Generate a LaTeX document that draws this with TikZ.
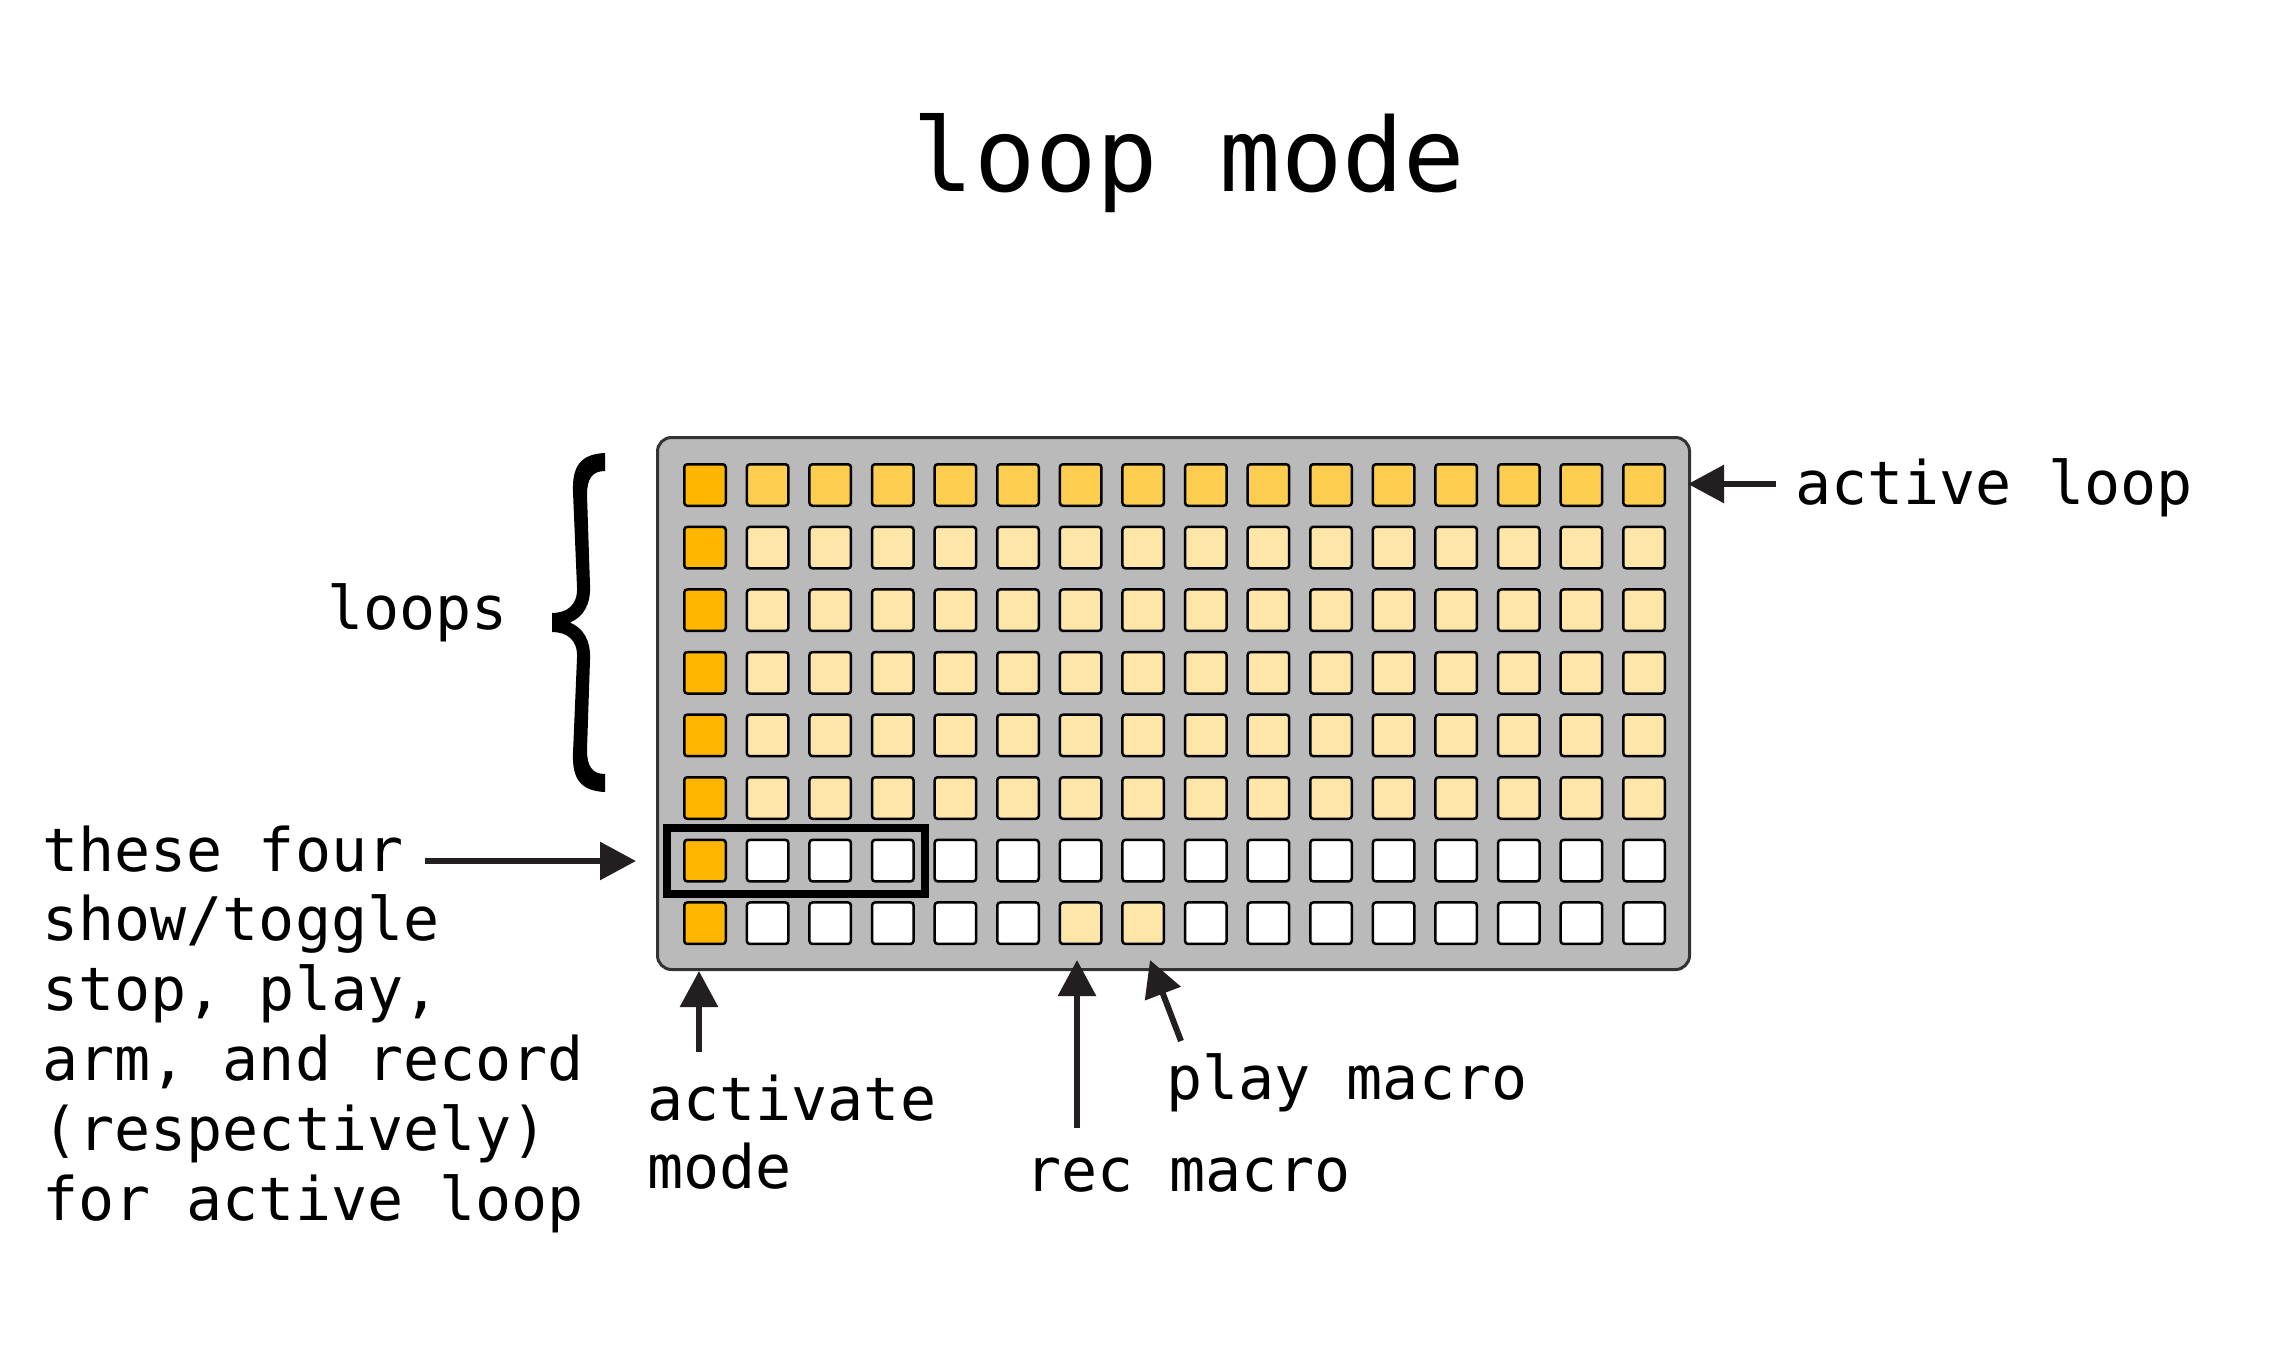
\documentclass[tikz,border=0pt]{standalone}
\usepackage{fontspec}
\newfontfamily\monof{DejaVu Sans Mono}
\usetikzlibrary{arrows.meta}
\definecolor{panelgray}{HTML}{BABABA}
\definecolor{paneledge}{HTML}{333333}
\definecolor{darkor}{HTML}{FFB600}
\definecolor{midor}{HTML}{FDCD50}
\definecolor{lightor}{HTML}{FEE6A9}
\definecolor{arrowc}{HTML}{231F20}
\begin{document}
\begin{tikzpicture}[x=1pt,y=-1pt,
  cell/.style={draw=black, line width=2.5pt, rounded corners=3pt, minimum size=41.5pt, inner sep=0pt},
  lbl/.style={anchor=base west, inner sep=0pt, font=\monof\fontsize{60}{70}\selectfont},
  arr/.style={draw=arrowc, line width=6pt, -{Triangle[length=36pt,width=37pt]}}]
\useasboundingbox (0,0) rectangle (2292,1354);
\fill[white] (0,0) rectangle (2292,1354);
% title
\node[anchor=base, inner sep=0pt, font=\monof\fontsize{102}{120}\selectfont] (title) at (1189,191) {loop mode};
% panel
\node[draw=paneledge, fill=panelgray, line width=3pt, rounded corners=14pt,
      minimum width=1032pt, minimum height=532pt, inner sep=0pt] (panel) at (1173.5,703.5) {};
% cells
\foreach \r in {0,...,7}{
  \foreach \c in {0,...,15}{
    \def\cc{white}
    \ifnum\r<6 \def\cc{lightor}\fi
    \ifnum\r=0 \def\cc{midor}\fi
    \ifnum\r=7 \ifnum\c>5 \ifnum\c<8 \def\cc{lightor}\fi\fi\fi
    \ifnum\c=0 \def\cc{darkor}\fi
    \node[cell, fill=\cc] (c-\r-\c) at ({705+62.6*\c},{485+62.6*\r}) {};
  }
}
% focus rectangle
\node[draw=black, line width=8pt, minimum width=258pt, minimum height=66pt, inner sep=0pt] (focus) at (796,861) {};
% labels
\node[lbl] (active) at (1795,504) {active loop};
\node[lbl] (loops) at (327,629) {loops};
\node[lbl] (t1) at (42,871) {these four};
\node[lbl] (t2) at (42,940) {show/toggle};
\node[lbl] (t3) at (42,1010) {stop, play,};
\node[lbl] (t4) at (42,1080) {arm, and record};
\node[lbl] (t5) at (42,1150) {(respectively)};
\node[lbl] (t6) at (42,1220) {for active loop};
\node[lbl] (act1) at (647,1120) {activate};
\node[lbl] (act2) at (647,1188) {mode};
\node[lbl] (play) at (1166,1099) {play macro};
\node[lbl] (rec) at (1025,1191) {rec macro};
% brace (filled glyph shape)
\fill[black] (605,453)
  .. controls (580,454) and (572,467) .. (573,492)
  -- (577,587)
  .. controls (578,606) and (566,613) .. (552,613)
  -- (552,632)
  .. controls (566,632) and (578,639) .. (577,658)
  -- (573,753)
  .. controls (572,778) and (580,791) .. (605,792)
  -- (605,774)
  .. controls (592,774) and (587,766) .. (587,750)
  -- (590,660)
  .. controls (591,640) and (583,628) .. (570,622.5)
  .. controls (583,617) and (591,605) .. (590,585)
  -- (587,495)
  .. controls (587,479) and (592,471) .. (605,471)
  -- cycle;
% arrow ends
\coordinate (aS) at (1776,484);
\coordinate (aT) at (1688,484);
\coordinate (fS) at (425,861);
\coordinate (fT) at (636,861);
\coordinate (mS) at (699,1052);
\coordinate (mT) at (699,971);
\coordinate (rS) at (1077,1128);
\coordinate (rT) at (1077,960);
\coordinate (pS) at (1181,1041);
\coordinate (pT) at (1150,960);
\draw[arr] (aS) -- (aT);
\draw[arr] (fS) -- (fT);
\draw[arr] (mS) -- (mT);
\draw[arr] (rS) -- (rT);
\draw[arr] (pS) -- (pT);
\end{tikzpicture}
\end{document}
